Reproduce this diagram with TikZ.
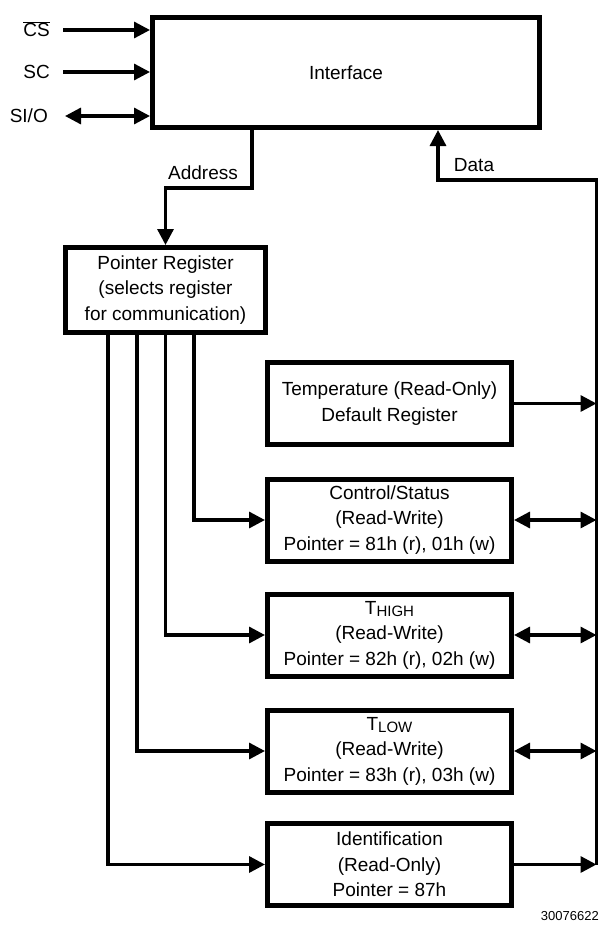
\documentclass[tikz,border=0pt]{standalone}
\usepackage{fontspec}
\setmainfont{Liberation Sans}
\usetikzlibrary{arrows.meta}

\tikzset{
  blk/.style={draw, line width=5pt, minimum width=244pt, minimum height=82pt,
    align=center, inner sep=0pt},
  conn/.style={line width=3.3pt},
  tip/.style={-{Triangle[length=16pt,width=16pt]}},
  tips/.style={{Triangle[length=16pt,width=16pt]}-{Triangle[length=16pt,width=16pt]}},
  lbl/.style={inner sep=0pt, text height=13.6pt, text depth=0pt}
}

\begin{document}
\begin{tikzpicture}[x=1pt, y=-1pt, font=\fontsize{19}{25.5}\selectfont]
  \useasboundingbox (0,0) rectangle (601,937);

  % interface and inputs
  \node[blk, minimum width=387pt, minimum height=110pt] (iface) at (346,72.5) {Interface};
  \node[lbl, anchor=east] (cs) at (50,30) {$\overline{\mbox{CS}}$};
  \node[lbl, anchor=east] (sc) at (50,72) {SC};
  \node[lbl, anchor=east] (sio) at (48,116) {SI/O};
  \draw[conn,tip] ([xshift=13pt]cs.east) -- (cs.east -| iface.west);
  \draw[conn,tip] ([xshift=13pt]sc.east) -- (sc.east -| iface.west);
  \draw[conn,tips] ([xshift=17pt]sio.east) -- (sio.east -| iface.west);

  % pointer register
  \node[blk, minimum width=200pt, minimum height=85pt] (ptr) at (165.5,290)
    {Pointer Register\\(selects register\\for communication)};

  % registers
  \node[blk] (temp) at (389.5,403.5) {Temperature (Read-Only)\\Default Register};
  \node[blk] (ctrl) at (389.5,520) {Control/Status\\(Read-Write)\\Pointer = 81h (r), 01h (w)};
  \node[blk] (thigh) at (389.5,635)
    {T\raisebox{-2pt}{\fontsize{15}{15}\selectfont HIGH}\\(Read-Write)\\Pointer = 82h (r), 02h (w)};
  \node[blk] (tlow) at (389.5,751)
    {T\raisebox{-2pt}{\fontsize{15}{15}\selectfont LOW}\\(Read-Write)\\Pointer = 83h (r), 03h (w)};
  \node[blk] (ident) at (389.5,864.5) {Identification\\(Read-Only)\\Pointer = 87h};

  % address and data paths
  \draw[conn,tip] ([xshift=-94pt]iface.south) -- ++(0,58) -| (ptr.north);
  \node[lbl] (addr) at (203,173) {Address};
  \coordinate (bustop) at (596.5,180);
  \coordinate (busbot) at (596.5,864.5);
  \draw[conn,tip] (busbot) -- (bustop) -| ([xshift=92pt]iface.south);
  \node[lbl] (data) at (474,165) {Data};

  % pointer select lines
  \draw[conn,tip] ([xshift=28.5pt]ptr.south) |- (ctrl.west);
  \draw[conn,tip] (ptr.south) |- (thigh.west);
  \draw[conn,tip] ([xshift=-28.5pt]ptr.south) |- (tlow.west);
  \draw[conn,tip] ([xshift=-57.5pt]ptr.south) |- (ident.west);

  % onto the data bus
  \draw[conn,tip] (temp.east) -- (temp.east -| bustop);
  \draw[conn,tips] (ctrl.east) -- (ctrl.east -| bustop);
  \draw[conn,tips] (thigh.east) -- (thigh.east -| bustop);
  \draw[conn,tips] (tlow.east) -- (tlow.east -| bustop);
  \draw[conn,tip] (ident.east) -- (ident.east -| bustop);

  \node[anchor=east, inner sep=0pt, font=\fontsize{13}{13}\selectfont] (fignum) at (599,916) {30076622};
\end{tikzpicture}
\end{document}
